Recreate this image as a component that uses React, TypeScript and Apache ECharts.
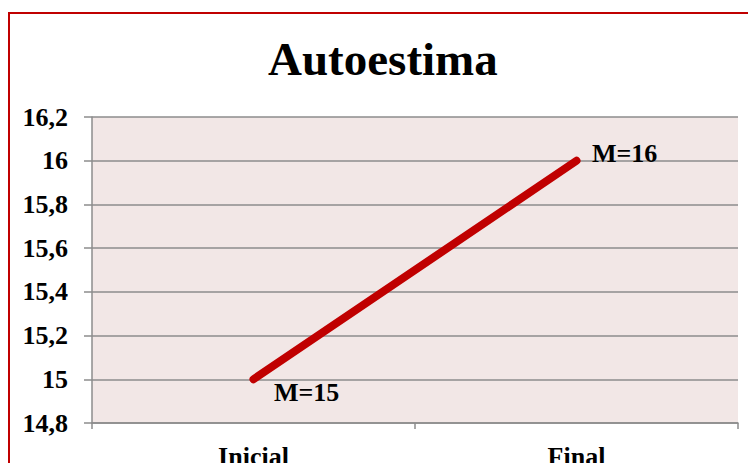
import React, { useEffect, useRef } from "react";
import * as echarts from "echarts";

const categories = ["Inicial", "Final"];
const means = [15, 16];
const labelPrefix = "M=";
const yMin = 14.8;
const yMax = 16.2;
const yStep = 0.2;
const titleText = "Autoestima";

const FONT = "'Liberation Serif', 'Times New Roman', serif";

export default function App() {
  const ref = useRef<HTMLDivElement>(null);
  useEffect(() => {
    if (!ref.current) return;
    const chart = echarts.init(ref.current, null, { renderer: "svg" });
    const labelOffsets = [
      [20, 13],
      [15, -7],
    ];
    chart.setOption({
      animation: false,
      backgroundColor: "#ffffff",
      title: {
        text: titleText,
        left: 268,
        top: 35,
        padding: 0,
        textStyle: {
          fontFamily: FONT,
          fontWeight: "bold",
          fontSize: 47,
          color: "#000000",
        },
      },
      graphic: [
        {
          type: "rect",
          shape: { x: 9, y: 13, width: 800, height: 500 },
          style: { fill: "none", stroke: "#C00000", lineWidth: 2 },
          silent: true,
          z: 100,
        },
      ],
      grid: {
        left: 92,
        top: 117,
        right: 10,
        bottom: 40,
        containLabel: false,
        outerBoundsMode: "none",
        show: true,
        backgroundColor: "#F2E7E6",
        borderWidth: 0,
      },
      xAxis: {
        type: "category",
        data: categories,
        boundaryGap: true,
        axisLine: { show: true, lineStyle: { color: "#8C8C8C", width: 1.5 } },
        axisTick: { show: true, length: 6, lineStyle: { color: "#8C8C8C", width: 1.5 } },
        axisLabel: {
          margin: 20,
          fontFamily: FONT,
          fontWeight: "bold",
          fontSize: 26,
          color: "#000000",
        },
        splitLine: { show: false },
      },
      yAxis: {
        type: "value",
        min: yMin,
        max: yMax,
        interval: yStep,
        axisLine: { show: true, lineStyle: { color: "#8C8C8C", width: 1.5 } },
        axisTick: { show: true, length: 8, lineStyle: { color: "#8C8C8C", width: 1.5 } },
        axisLabel: {
          margin: 24,
          fontFamily: FONT,
          fontWeight: "bold",
          fontSize: 26,
          color: "#000000",
          formatter: (v: number) => String(Math.round(v * 10) / 10).replace(".", ","),
        },
        splitLine: { show: true, lineStyle: { color: "#8C8C8C", width: 1.5 } },
      },
      series: [
        {
          type: "line",
          data: means.map((v, i) => ({
            value: v,
            label: { offset: labelOffsets[i] },
          })),
          symbol: "circle",
          symbolSize: 1,
          itemStyle: { color: "#C00000" },
          lineStyle: { color: "#C00000", width: 8, cap: "round", join: "round" },
          label: {
            show: true,
            position: "right",
            distance: 0,
            formatter: (p: any) => labelPrefix + p.value,
            fontFamily: FONT,
            fontWeight: "bold",
            fontSize: 26,
            color: "#000000",
          },
        },
      ],
    });
    return () => chart.dispose();
  }, []);
  return (
    <div
      ref={ref}
      style={{ position: "absolute", left: 0, top: 0, width: 748, height: 463 }}
    />
  );
}
